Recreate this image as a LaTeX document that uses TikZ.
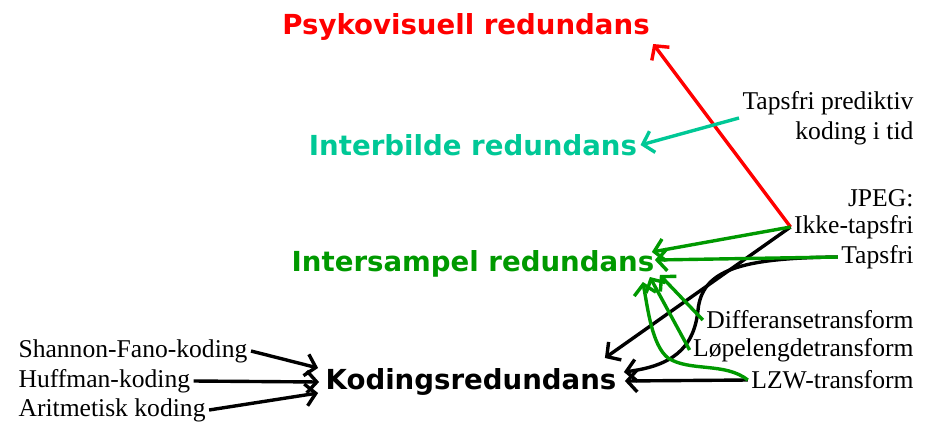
\documentclass[tikz,border=0pt]{standalone}
\usepackage{fontspec}
\setmainfont{Liberation Serif}
\newfontfamily\tittelfont{DejaVu Sans}
\usetikzlibrary{arrows.meta,calc}

\definecolor{rod}{RGB}{255,0,0}
\definecolor{turkis}{RGB}{0,200,150}
\definecolor{gronn}{RGB}{0,153,0}

\tikzset{
	tekst/.style={font=\fontsize{25.6}{30}\selectfont},
	tittel/.style={font=\tittelfont\bfseries\fontsize{27.6}{32}\selectfont},
	pil/.style={line width=3.4pt,-{Straight Barb[length=10pt,width=22pt]}},
}

\begin{document}
\begin{tikzpicture}[x=1pt,y=-1pt]
	\useasboundingbox (0,0) rectangle (935,424);
	
	% Redundanstyper
	\node[tittel,text=rod]    (psyk) at (466,27)  {Psykovisuell redundans};
	\node[tittel,text=turkis] (intb) at (473,145) {Interbilde redundans};
	\node[tittel,text=gronn]  (ints) at (473,264) {Intersampel redundans};
	\node[tittel]             (kod)  at (471,382) {Kodingsredundans};
	
	% Metoder venstre
	\node[tekst,anchor=west] (shannon) at (15,351) {Shannon-Fano-koding};
	\node[tekst,anchor=west] (huffman) at (15,381) {Huffman-koding};
	\node[tekst,anchor=west] (arit)    at (15,410) {Aritmetisk koding};
	
	% Metoder hoyre
	\node[tekst,anchor=east,align=right] (pred) at (917,118) {Tapsfri prediktiv\\koding i tid};
	\node[tekst,anchor=east] (jpeg)    at (917,198) {JPEG:};
	\node[tekst,anchor=east] (ikke)    at (917,227) {Ikke-tapsfri};
	\node[tekst,anchor=east] (tapsfri) at (917,257) {Tapsfri};
	\node[tekst,anchor=east] (diff)    at (917,320) {Differansetransform};
	\node[tekst,anchor=east] (lop)     at (917,350) {Løpelengdetransform};
	\node[tekst,anchor=east] (lzw)     at (917,380) {LZW-transform};
	
	% Pilspisser
	\coordinate (ints-a) at ($(ints.east)+(-6,-12)$);
	\coordinate (ints-b) at ($(ints.east)+(-3,-4)$);
	\coordinate (ints-c) at ($(ints.east)+(2,11)$);
	\coordinate (ints-d) at ($(ints.east)+(-8,13)$);
	\coordinate (ints-e) at ($(ints.east)+(-15,18)$);
	\coordinate (kod-a) at ($(kod.east)+(-15,-24)$);
	\coordinate (kod-b) at ($(kod.east)+(4,-10)$);
	\coordinate (kod-c) at ($(kod.east)+(5,-1)$);
	\coordinate (kod-d) at ($(kod.west)+(-4,-14)$);
	\coordinate (kod-e) at ($(kod.west)+(-3,0)$);
	\coordinate (kod-f) at ($(kod.west)+(-4,11)$);
	
	% Piler
	\draw[pil,rod] (ikke.west) -- (psyk.south east);
	\draw[pil,turkis] (pred.west) -- (intb.east);
	
	\draw[pil] (ikke.west) -- (kod-a);
	\draw[pil] (tapsfri.west) .. controls (740,258) and (702,270) .. (698,310)
		.. controls (694,350) and (670,366) .. (kod-b);
	\draw[pil] (lzw.west) -- (kod-c);
	
	\draw[pil,gronn] (ikke.west) -- (ints-a);
	\draw[pil,gronn] (tapsfri.west) -- (ints-b);
	\draw[pil,gronn] (diff.west) -- (ints-c);
	\draw[pil,gronn] (lop.west) -- (ints-d);
	\draw[pil,gronn] (lzw.west) .. controls (725,362) and (690,372) .. (668,358)
		.. controls (652,345) and (648,310) .. (ints-e);
	
	\draw[pil] (shannon.east) -- (kod-d);
	\draw[pil] (huffman.east) -- (kod-e);
	\draw[pil] (arit.east) -- (kod-f);
\end{tikzpicture}
\end{document}
